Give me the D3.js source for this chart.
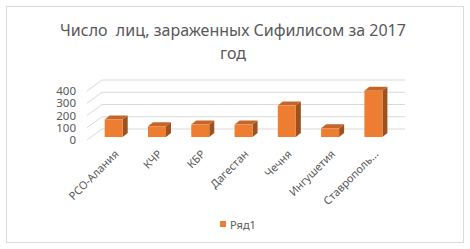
<!DOCTYPE html>
<html>
<head>
<meta charset="utf-8">
<script src="https://cdn.jsdelivr.net/npm/d3@7"></script>
<style>
  body { margin: 0; background: #fff; }
  svg { font-family: "Noto Sans", "DejaVu Sans", sans-serif; }
</style>
</head>
<body>
<div id="chart"></div>
<script>
// data
const regions = ['РСО-Алания', 'КЧР', 'КБР', 'Дагестан', 'Чечня', 'Ингушетия', 'Ставрополь...'];
const cases = [143, 88, 102, 102, 257, 71, 377];
const yTicks = [0, 100, 200, 300, 400];
const seriesName = 'Ряд1';
const titleLines = ['Число  лиц, зараженных Сифилисом за 2017', 'год'];

const W = 470, H = 249;
const orange = '#ED7D31', topCol = '#C4662A', sideCol = '#9C511E';
const grid = '#D9D9D9', txt = '#595959';

let svg = d3.select('#chart').append('svg').attr('width', W).attr('height', H);

svg.append('rect').attr('x', 6.5).attr('y', 6.5).attr('width', 457).attr('height', 236)
  .attr('fill', '#fff').attr('stroke', grid);

// title
svg.append('g').selectAll('text').data(titleLines).join('text')
  .attr('x', 233).attr('y', (d, i) => 36 + i * 23)
  .attr('text-anchor', 'middle').attr('fill', txt)
  .attr('font-size', 16).style('white-space', 'pre')
  .text(d => d);

// 3d-ish plot: front plane scale + depth offset for the back wall
const x0 = 87, x1 = 391, backX = 405;
const depthX = 15, depthY = -11;
var y = d3.scaleLinear().domain([0, 400]).range([140, 91]);
var x = d3.scaleBand().domain(regions).range([x0 + 1, x1])
  .paddingInner(0.584).paddingOuter(0.292);

let g = svg.append('g');
// side wall diagonals + back wall lines
g.selectAll('.side').data(yTicks).join('line')
  .attr('x1', x0).attr('y1', d => y(d))
  .attr('x2', x0 + depthX).attr('y2', d => y(d) + depthY)
  .attr('stroke', grid).attr('stroke-width', 1);
g.selectAll('.back').data(yTicks).join('line')
  .attr('x1', x0 + depthX).attr('y1', d => y(d) + depthY)
  .attr('x2', backX).attr('y2', d => y(d) + depthY)
  .attr('stroke', grid).attr('stroke-width', 1);

// y axis labels
let yAxis = svg.append('g').attr('transform', 'translate(79,0)')
  .call(d3.axisLeft(y).tickValues(yTicks).tickSize(0).tickPadding(3));
yAxis.select('.domain').remove();
yAxis.selectAll('text').attr('fill', txt).attr('font-size', 11.5)
  .attr('font-family', '"Noto Sans", sans-serif');

// bars: front face sits a bit behind the front plane
const d0 = 0.27;
const bdx = 5, bdy = -4;
let bars = svg.append('g').selectAll('g').data(regions).join('g');
bars.each(function(r, i) {
  let bx = x(r) + d0 * depthX;
  let base = y(0) + d0 * depthY;
  let h = y(0) - y(cases[i]);
  let bw = x.bandwidth();
  let top = base - h;
  let sel = d3.select(this);
  // side face
  sel.append('path')
    .attr('d', `M${bx + bw},${top} L${bx + bw + bdx},${top + bdy} L${bx + bw + bdx},${base + bdy} L${bx + bw},${base} Z`)
    .attr('fill', sideCol);
  // top face
  sel.append('path')
    .attr('d', `M${bx},${top} L${bx + bdx},${top + bdy} L${bx + bw + bdx},${top + bdy} L${bx + bw},${top} Z`)
    .attr('fill', topCol);
  // front face
  sel.append('rect').attr('x', bx).attr('y', top).attr('width', bw).attr('height', h)
    .attr('fill', orange);
});

// category labels, rotated
svg.append('g').selectAll('text').data(regions).join('text')
  .attr('transform', d => `translate(${x(d) + d0 * depthX + x.bandwidth() / 2 + 3},152) rotate(-45)`)
  .attr('text-anchor', 'end').attr('dy', '0.35em')
  .attr('fill', txt).attr('font-size', 11)
  .text(d => d);

// legend
svg.append('rect').attr('x', 220).attr('y', 221).attr('width', 6).attr('height', 6).attr('fill', orange);
svg.append('text').attr('x', 230).attr('y', 228.5).attr('fill', txt).attr('font-size', 11).text(seriesName);
</script>
</body>
</html>
